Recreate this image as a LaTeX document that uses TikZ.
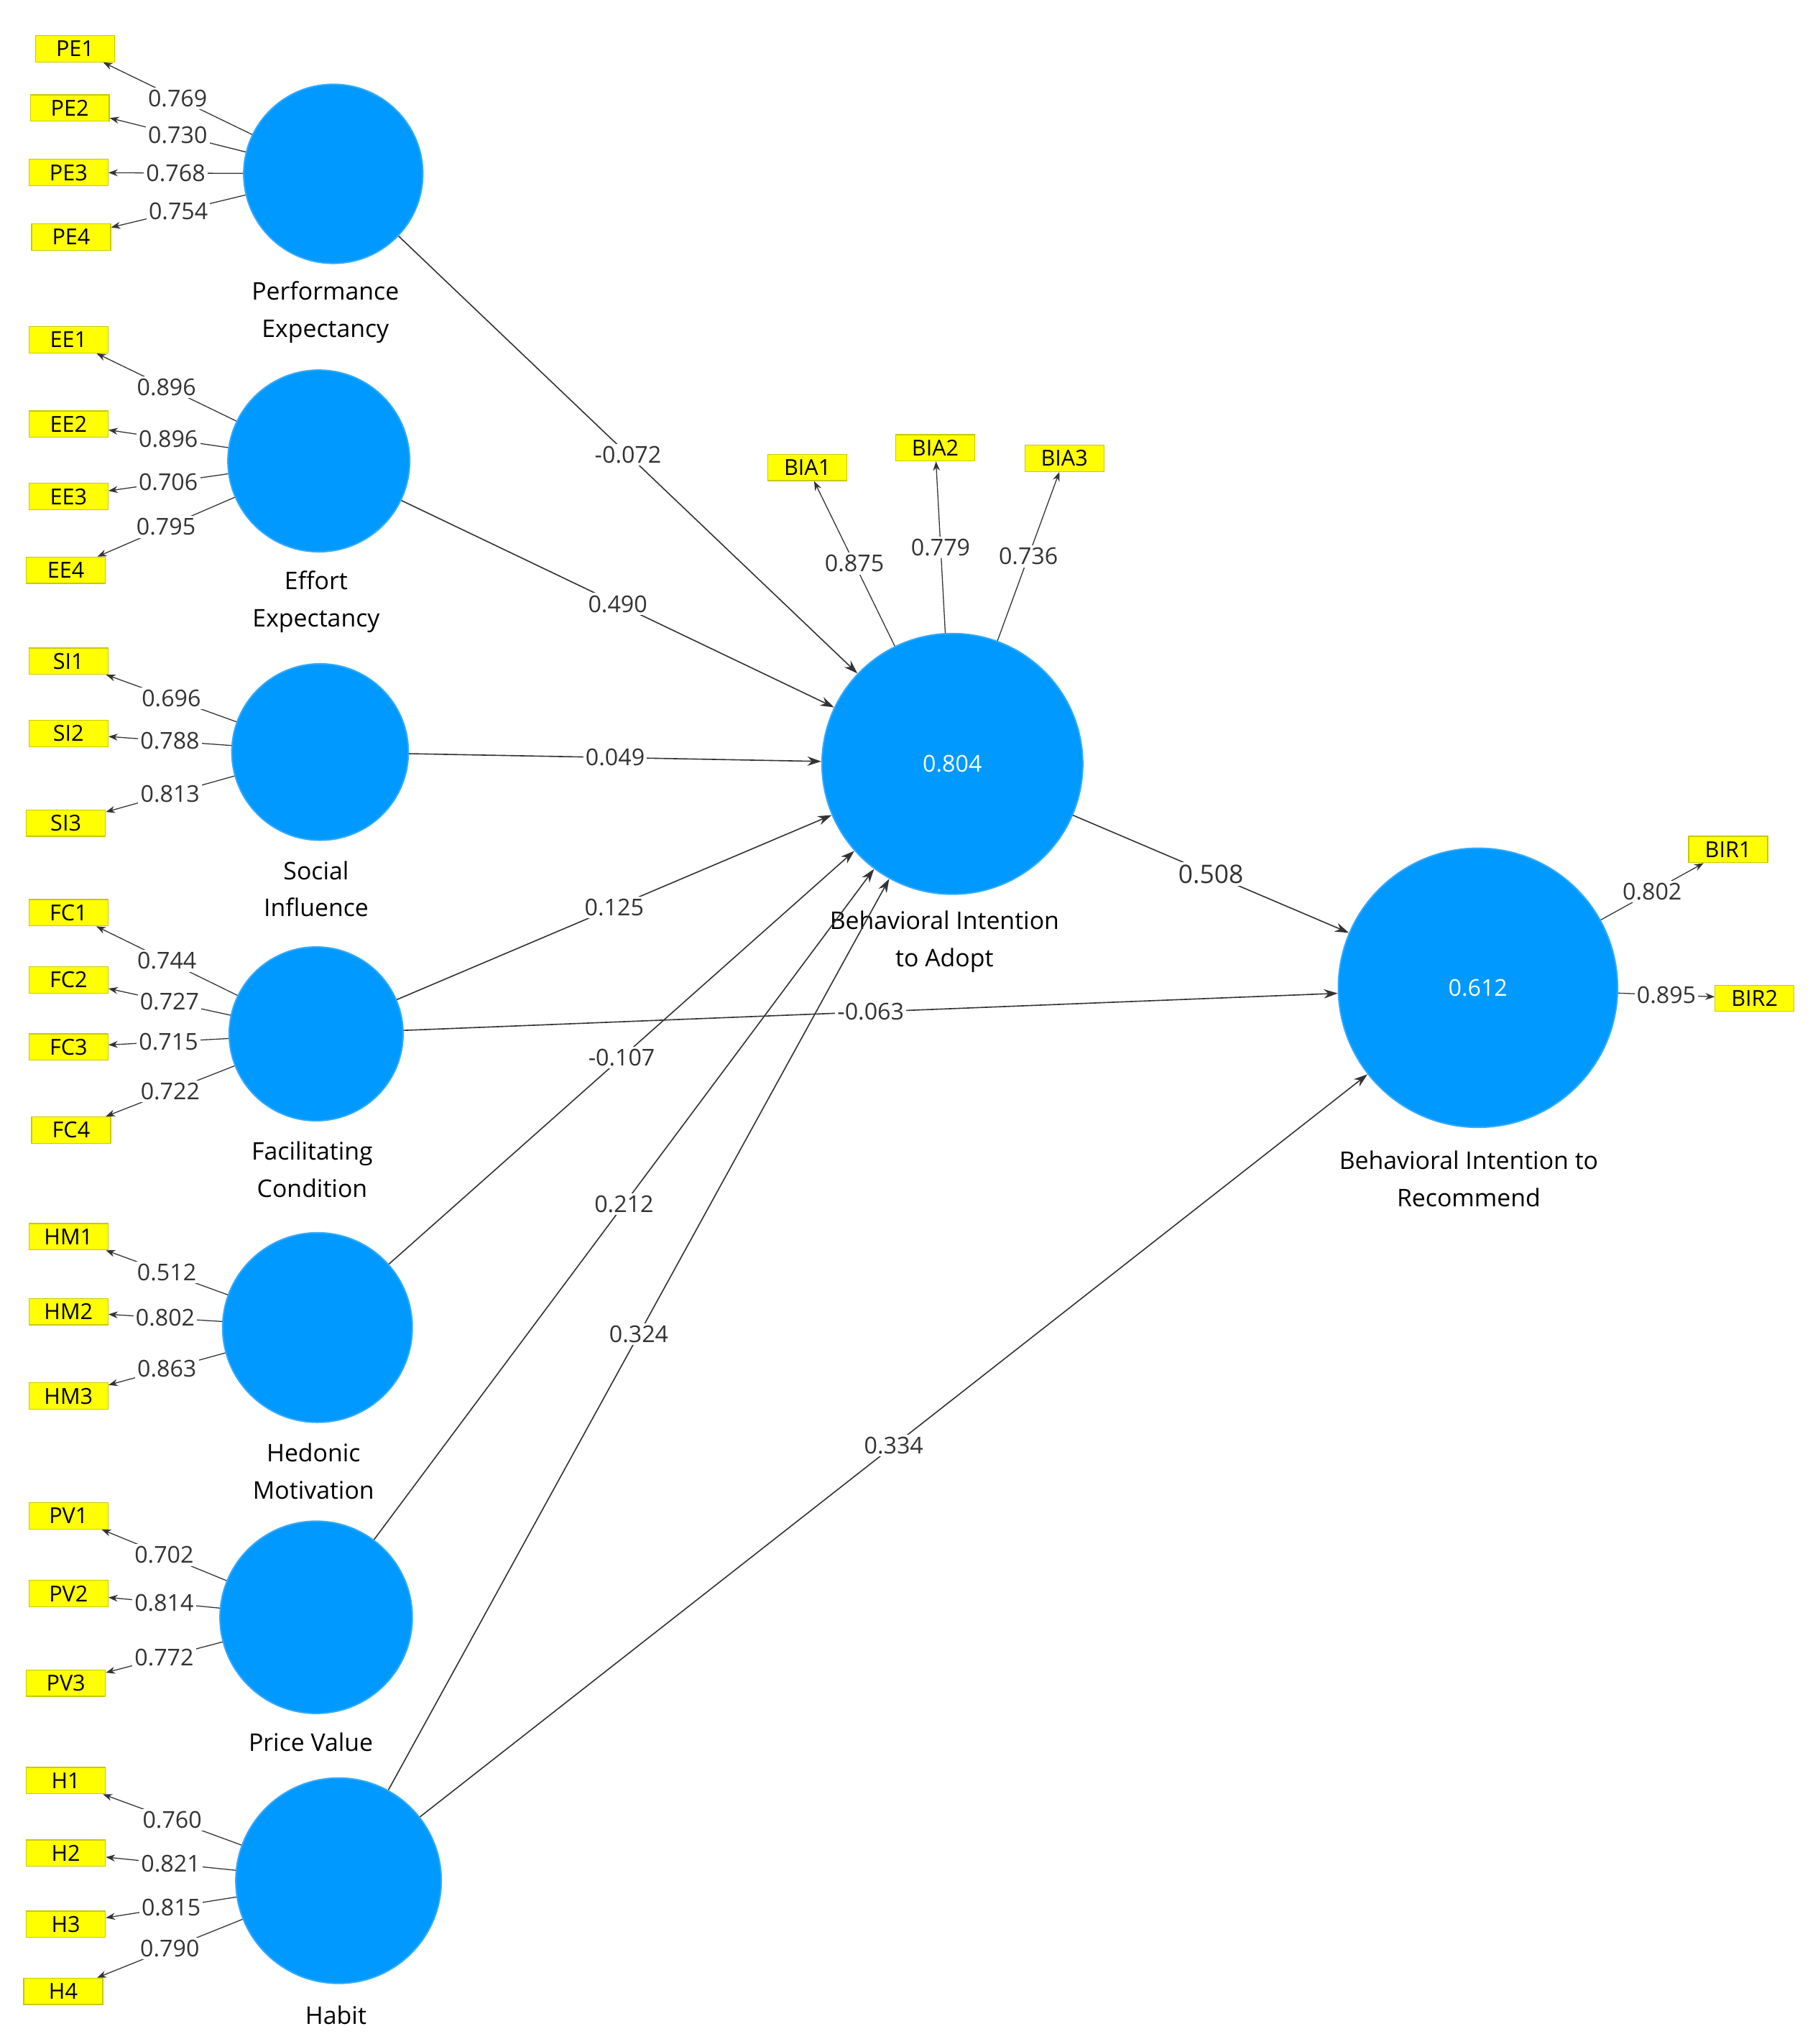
\documentclass[tikz,border=0pt]{standalone}
\usepackage{fontspec}
\setmainfont{Open Sans}
\usetikzlibrary{arrows.meta, positioning}
\definecolor{lvblue}{HTML}{0099FF}
\definecolor{lvedge}{HTML}{33AAFF}
\definecolor{indyel}{HTML}{FFFF00}
\definecolor{indedge}{HTML}{C8C800}
\tikzset{
  lv/.style={circle, fill=lvblue, draw=lvedge, line width=0.6pt, minimum size=#1*0.02cm,
    inner sep=0pt, text=white, font=\fontsize{10}{12}\selectfont},
  ind/.style={rectangle, fill=indyel, draw=indedge, line width=0.4pt, minimum width=1.2cm,
    minimum height=0.4cm, inner sep=1pt, font=\fontsize{9.5}{11}\selectfont},
  lvl/.style={align=center, font=\fontsize{10.5}{16}\selectfont},
  ld/.style={-{Stealth[length=4pt,width=3pt]}, line width=0.4pt, black!80},
  pc/.style={-{Stealth[length=6pt,width=4pt]}, line width=0.5pt, black!80},
  nl/.style={midway, fill=white, inner sep=1pt, font=\fontsize{10}{12}\selectfont},
  bl/.style={midway, fill=white, inner sep=1pt, font=\fontsize{11}{13}\selectfont},
}
\begin{document}
\begin{tikzpicture}[x=0.02cm, y=-0.02cm]
\useasboundingbox (0,0) rectangle (1380,1552);

% latent variables
\node[lv=136] (PE) at (253,132) {};
\node[lv=138] (EE) at (242,350) {};
\node[lv=134] (SI) at (243,571) {};
\node[lv=132] (FC) at (240,785) {};
\node[lv=144] (HM) at (241,1008) {};
\node[lv=146] (PV) at (240,1228) {};
\node[lv=156] (HB) at (257,1428) {};
\node[lv=198] (BIA) at (723,580) {0.804};
\node[lv=212] (BIR) at (1122,750) {0.612};

\node[lvl] at (247,237) {Performance\\Expectancy};
\node[lvl] at (240,457) {Effort\\Expectancy};
\node[lvl] at (240,675) {Social\\Influence};
\node[lvl] at (237,888) {Facilitating\\Condition};
\node[lvl] at (238,1117) {Hedonic\\Motivation};
\node[lvl] at (236,1323) {Price Value};
\node[lvl] at (255,1530) {Habit};
\node[lvl] at (717,715) {Behavioral Intention\\to Adopt};
\node[lvl] at (1115,895) {Behavioral Intention to\\Recommend};

% indicators
\node[ind] (PE1) at (57,37) {PE1};
\node[ind] (PE2) at (53,82) {PE2};
\node[ind] (PE3) at (52,131) {PE3};
\node[ind] (PE4) at (54,180) {PE4};
\node[ind] (EE1) at (52,258) {EE1};
\node[ind] (EE2) at (52,322) {EE2};
\node[ind] (EE3) at (52,377) {EE3};
\node[ind] (EE4) at (50,433) {EE4};
\node[ind] (SI1) at (52,502) {SI1};
\node[ind] (SI2) at (52,557) {SI2};
\node[ind] (SI3) at (50,625) {SI3};
\node[ind] (FC1) at (52,693) {FC1};
\node[ind] (FC2) at (52,744) {FC2};
\node[ind] (FC3) at (52,795) {FC3};
\node[ind] (FC4) at (54,858) {FC4};
\node[ind] (HM1) at (52,939) {HM1};
\node[ind] (HM2) at (52,996) {HM2};
\node[ind] (HM3) at (52,1060) {HM3};
\node[ind] (PV1) at (52,1151) {PV1};
\node[ind] (PV2) at (52,1210) {PV2};
\node[ind] (PV3) at (50,1278) {PV3};
\node[ind] (H1) at (50,1352) {H1};
\node[ind] (H2) at (50,1407) {H2};
\node[ind] (H3) at (50,1461) {H3};
\node[ind] (H4) at (48,1512) {H4};
\node[ind] (BIA1) at (613,355) {BIA1};
\node[ind] (BIA2) at (710,340) {BIA2};
\node[ind] (BIA3) at (808,348) {BIA3};
\node[ind] (BIR1) at (1312,645) {BIR1};
\node[ind] (BIR2) at (1332,758) {BIR2};

% outer loadings
\foreach \lv/\ii/\val in {PE/PE1/0.769, PE/PE2/0.730, PE/PE3/0.768, PE/PE4/0.754,
  EE/EE1/0.896, EE/EE2/0.896, EE/EE3/0.706, EE/EE4/0.795,
  SI/SI1/0.696, SI/SI2/0.788, SI/SI3/0.813,
  FC/FC1/0.744, FC/FC2/0.727, FC/FC3/0.715, FC/FC4/0.722,
  HM/HM1/0.512, HM/HM2/0.802, HM/HM3/0.863,
  PV/PV1/0.702, PV/PV2/0.814, PV/PV3/0.772,
  HB/H1/0.760, HB/H2/0.821, HB/H3/0.815, HB/H4/0.790,
  BIA/BIA1/0.875, BIA/BIA2/0.779, BIA/BIA3/0.736,
  BIR/BIR1/0.802, BIR/BIR2/0.895}
  \draw[ld] (\lv) -- node[nl]{\val} (\ii);

% path coefficients
\draw[pc] (PE) -- node[nl]{-0.072} (BIA);
\draw[pc] (EE) -- node[nl]{0.490} (BIA);
\draw[pc] (SI) -- node[nl]{0.049} (BIA);
\draw[pc] (FC) -- node[nl]{0.125} (BIA);
\draw[pc] (FC) -- node[nl]{-0.063} (BIR);
\draw[pc] (HM) -- node[nl]{-0.107} (BIA);
\draw[pc] (PV) -- node[nl]{0.212} (BIA);
\draw[pc] (HB) -- node[nl]{0.324} (BIA);
\draw[pc] (HB) -- node[nl]{0.334} (BIR);
\draw[pc] (BIA) -- node[bl]{0.508} (BIR);
\end{tikzpicture}
\end{document}
